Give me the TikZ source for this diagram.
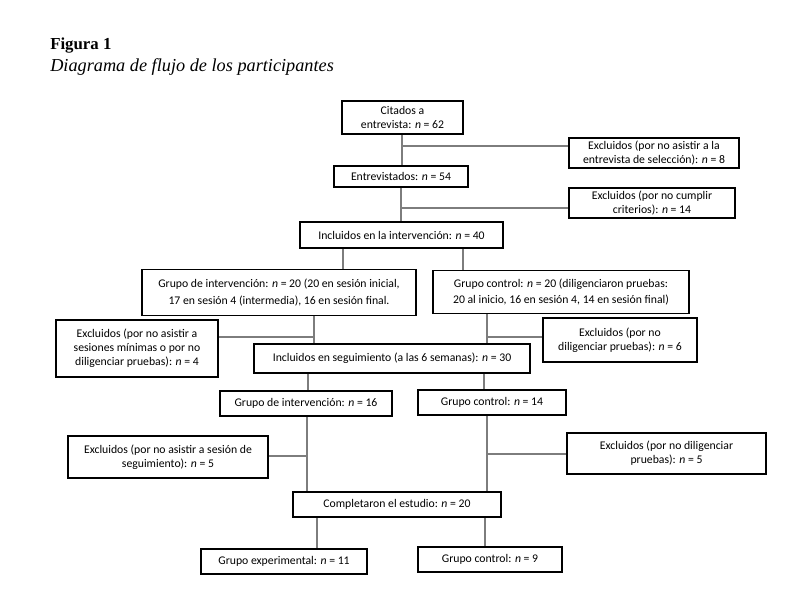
\documentclass[tikz,border=0pt]{standalone}
\usepackage{fontspec}
\setmainfont{Liberation Serif}
\newfontfamily\boxfont{Carlito}
\definecolor{linkgray}{RGB}{125,125,125}

\begin{document}
\begin{tikzpicture}[x=0.75pt,y=0.75pt,yscale=-1,xscale=1,
  box/.style={draw, line width=1.25pt, align=center, inner sep=0pt, font=\boxfont\fontsize{8.8}{10.6}\selectfont},
  tallbox/.style={box, font=\boxfont\fontsize{8.8}{12.4}\selectfont},
  boxsize/.style 2 args={minimum width=#1*0.75pt, minimum height=#2*0.75pt},
  link/.style={draw=linkgray, line width=0.8pt}]
\useasboundingbox (0,0) rectangle (800,605);

% Title
\node [anchor=base west, inner sep=0pt, font=\bfseries\fontsize{12.6}{15}\selectfont] (fig) at (50,50) {Figura 1};
\node [anchor=base west, inner sep=0pt, font=\itshape\fontsize{13.7}{16}\selectfont] (cap) at (50,72) {Diagrama de flujo de los participantes};

%Shape: Rectangle
\node [box, boxsize={121}{33}] (cit) at (402.5,117.5) {Citados a\\entrevista: \textit{n} = 62};
\node [box, boxsize={170}{30}] (exA) at (654,153) {Excluidos (por no asistir a la\\entrevista de selección): \textit{n} = 8};
\node [box, boxsize={134}{21}] (ent) at (401,176.5) {Entrevistados: \textit{n} = 54};
\node [box, boxsize={166}{30}] (exB) at (652,203) {Excluidos (por no cumplir\\criterios): \textit{n} = 14};
\node [box, boxsize={203}{26}] (inc) at (401.5,235) {Incluidos en la intervención: \textit{n} = 40};
\node [tallbox, boxsize={274}{46}] (gint) at (279,292.5) {Grupo de intervención: \textit{n} = 20 (20 en sesión inicial,\\17 en sesión 4 (intermedia), 16 en sesión final.};
\node [tallbox, boxsize={256}{43}] (gc) at (561,292) {Grupo control: \textit{n} = 20 (diligenciaron pruebas:\\20 al inicio, 16 en sesión 4, 14 en sesión final)};
\node [box, boxsize={162}{57}] (ex4) at (137,348.5) {Excluidos (por no asistir a\\sesiones mínimas o por no\\diligenciar pruebas): \textit{n} = 4};
\node [box, boxsize={154}{44}] (ex6) at (620,340) {Excluidos (por no\\diligenciar pruebas): \textit{n} = 6};
\node [box, boxsize={276}{29}] (seg) at (392,358.5) {Incluidos en seguimiento (a las 6 semanas): \textit{n} = 30};
\node [box, boxsize={172}{25}] (gi16) at (306,403.5) {Grupo de intervención: \textit{n} = 16};
\node [box, boxsize={148}{25}] (gc14) at (492,402.5) {Grupo control: \textit{n} = 14};
\node [box, boxsize={200}{42}] (ex5a) at (168,457) {Excluidos (por no asistir a sesión de\\seguimiento): \textit{n} = 5};
\node [box, boxsize={199}{41}] (ex5b) at (666.5,453.5) {Excluidos (por no diligenciar\\pruebas): \textit{n} = 5};
\node [box, boxsize={208}{25}] (comp) at (397,504.5) {Completaron el estudio: \textit{n} = 20};
\node [box, boxsize={166}{25}] (gexp) at (284,561.5) {Grupo experimental: \textit{n} = 11};
\node [box, boxsize={144}{25}] (gc9) at (490,559.5) {Grupo control: \textit{n} = 9};

% Branch points and line positions
\coordinate (jA) at (402,146);
\coordinate (jB) at (401,208);
\coordinate (jC) at (314,337);
\coordinate (jD) at (487,337);
\coordinate (jE) at (307,456);
\coordinate (jF) at (487,454);
\coordinate (xL1) at (343,0);
\coordinate (xR1) at (463,0);
\coordinate (xL2) at (314,0);
\coordinate (xR2) at (487,0);
\coordinate (xL3) at (308,0);
\coordinate (xR3) at (484,0);
\coordinate (xL4) at (307,0);
\coordinate (xR4) at (487,0);
\coordinate (xL5) at (317,0);
\coordinate (xR5) at (485,0);

%Straight Lines
\draw [link] (cit.south -| jA) -- (ent.north -| jA);
\draw [link] (jA) -- (jA -| exA.west);
\draw [link] (ent.south -| jB) -- (inc.north -| jB);
\draw [link] (jB) -- (jB -| exB.west);
\draw [link] (inc.south -| xL1) -- (gint.north -| xL1);
\draw [link] (inc.south -| xR1) -- (gc.north -| xR1);
\draw [link] (gint.south -| xL2) -- (seg.north -| xL2);
\draw [link] (jC) -- (jC -| ex4.east);
\draw [link] (gc.south -| xR2) -- (seg.north -| xR2);
\draw [link] (jD) -- (jD -| ex6.west);
\draw [link] (seg.south -| xL3) -- (gi16.north -| xL3);
\draw [link] (seg.south -| xR3) -- (gc14.north -| xR3);
\draw [link] (gi16.south -| xL4) -- (comp.north -| xL4);
\draw [link] (jE) -- (jE -| ex5a.east);
\draw [link] (gc14.south -| xR4) -- (comp.north -| xR4);
\draw [link] (jF) -- (jF -| ex5b.west);
\draw [link] (comp.south -| xL5) -- (gexp.north -| xL5);
\draw [link] (comp.south -| xR5) -- (gc9.north -| xR5);

\end{tikzpicture}
\end{document}
